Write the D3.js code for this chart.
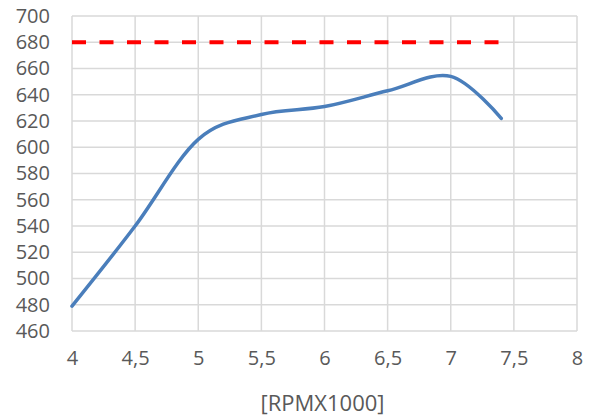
<!DOCTYPE html>
<html lang="en">
<head>
<meta charset="UTF-8" />
<script src="https://d3js.org/d3.v7.min.js"></script>
<style>
  body { margin: 0; background: #fff; }
  text { font-family: "Open Sans", "Noto Sans", sans-serif; fill: #595959; }
</style>
</head>
<body>
<div id="chart"></div>
<script>
  // data
  var rpm = [4, 4.5, 5, 5.5, 6, 6.5, 7, 7.4];
  var power = [479, 540, 606, 625, 631, 643, 654, 622];
  var limitRpm = [4, 7.4];
  var limitVal = [680, 680];
  var xTicks = [4, 4.5, 5, 5.5, 6, 6.5, 7, 7.5, 8];
  var yTicks = [460, 480, 500, 520, 540, 560, 580, 600, 620, 640, 660, 680, 700];

  var W = 593, H = 416;
  var margin = {top: 16, right: 16, bottom: 85, left: 72};
  var width = W - margin.left - margin.right,
      height = H - margin.top - margin.bottom;

  var svg = d3.select("#chart").append("svg")
      .attr("width", W).attr("height", H)
    .append("g")
      .attr("transform", "translate(" + margin.left + "," + margin.top + ")");

  var x = d3.scaleLinear().domain([4, 8]).range([0, width]);
  var y = d3.scaleLinear().domain([460, 700]).range([height, 0]);

  // grid
  svg.append("g").selectAll("line").data(yTicks).enter().append("line")
    .attr("x1", 0).attr("x2", width)
    .attr("y1", function(d) { return y(d); }).attr("y2", function(d) { return y(d); })
    .attr("stroke", "#d9d9d9").attr("stroke-width", 1.5);
  svg.append("g").selectAll("line").data(xTicks).enter().append("line")
    .attr("y1", 0).attr("y2", height)
    .attr("x1", function(d) { return x(d); }).attr("x2", function(d) { return x(d); })
    .attr("stroke", "#d9d9d9").attr("stroke-width", 1.5);

  // axes (labels only)
  var fmt = function(d) { return String(d).replace(".", ","); };
  var yAxis = svg.append("g").call(d3.axisLeft(y).tickValues(yTicks).tickSize(0).tickPadding(22));
  var xAxis = svg.append("g").attr("transform", "translate(0," + height + ")")
    .call(d3.axisBottom(x).tickValues(xTicks).tickFormat(fmt).tickSize(0).tickPadding(20));
  [xAxis, yAxis].forEach(function(a) {
    a.select(".domain").remove();
    a.selectAll("text").style("font-size", "20px").attr("fill", "#595959");
  });

  svg.append("text")
    .attr("x", x(6) - 2).attr("y", height + 80)
    .attr("text-anchor", "middle")
    .style("font-size", "22px")
    .text("[RPMX1000]");

  // limit line
  var pts = limitRpm.map(function(d, i) { return [d, limitVal[i]]; });
  svg.append("path")
    .datum(pts)
    .attr("fill", "none")
    .attr("stroke", "#ff0000")
    .attr("stroke-width", 4)
    .attr("stroke-dasharray", "14,13.5")
    .attr("d", d3.line().x(function(d) { return x(d[0]); }).y(function(d) { return y(d[1]); }));

  // power curve
  var curve = rpm.map(function(d, i) { return [d, power[i]]; });
  svg.append("path")
    .datum(curve)
    .attr("fill", "none")
    .attr("stroke", "#4a7ebb")
    .attr("stroke-width", 3.5)
    .attr("stroke-linecap", "round")
    .attr("d", d3.line().curve(d3.curveCardinal.tension(0))
      .x(function(d) { return x(d[0]); }).y(function(d) { return y(d[1]); }));
</script>
</body>
</html>
